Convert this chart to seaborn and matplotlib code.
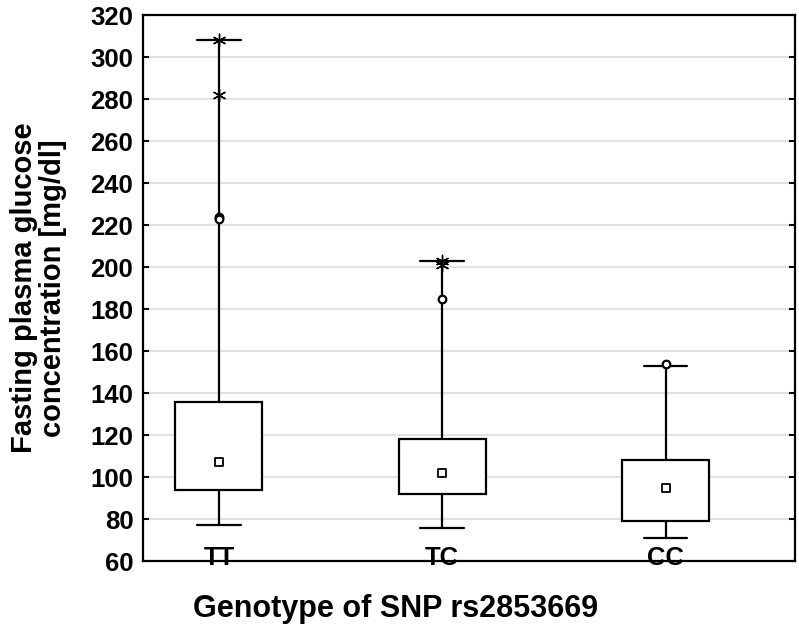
import numpy as np
import pandas as pd
import matplotlib
matplotlib.use('Agg')
import matplotlib.pyplot as plt
import seaborn as sns

# Valores (mg/dl)
genotipos = ['TT', 'TC', 'CC']
bigode_inf = [77, 76, 71]
q1 = [94, 92, 79]
mediana = [107, 102, 95]
q3 = [136, 118, 108]
bigode_sup = [308, 203, 153]

# pontos atípicos (círculos) e extremos (asteriscos)
atipicos_grupo = ['TT', 'TT', 'TC', 'CC']
atipicos_valor = [224, 223, 185, 154]
extremos_grupo = ['TT', 'TT', 'TC', 'TC']
extremos_valor = [308, 282, 203, 201]

# cinco pontos por grupo -> quartis exatos com whis=(0, 100)
linhas = []
for i, g in enumerate(genotipos):
    for v in (bigode_inf[i], q1[i], mediana[i], q3[i], bigode_sup[i]):
        linhas.append({'genotipo': g, 'glicose': v})
df = pd.DataFrame(linhas)
df_med = pd.DataFrame({'genotipo': genotipos, 'glicose': mediana})
df_out = pd.DataFrame({'genotipo': atipicos_grupo, 'glicose': atipicos_valor})
df_ext = pd.DataFrame({'genotipo': extremos_grupo, 'glicose': extremos_valor})

sns.set_style('white')
plt.rcParams['font.family'] = ['Liberation Sans', 'DejaVu Sans']
plt.rcParams['font.weight'] = 'bold'
plt.rcParams['text.color'] = 'black'
plt.rcParams['xtick.color'] = 'black'
plt.rcParams['ytick.color'] = 'black'
plt.rcParams['axes.labelcolor'] = 'black'

fig = plt.figure(figsize=(7.99, 6.27), dpi=100)
ax = fig.add_axes([0.179, 0.105, 0.816, 0.871])

sns.boxplot(data=df, x='genotipo', y='glicose', order=genotipos, whis=(0, 100),
            showfliers=False, width=0.39, color='white', linecolor='black',
            linewidth=1.6, medianprops={'visible': False}, ax=ax, zorder=3)

sns.scatterplot(data=df_med, x='genotipo', y='glicose', marker='s', s=30,
                facecolor='white', edgecolor='black', linewidth=1.3, ax=ax, zorder=5)
sns.scatterplot(data=df_out, x='genotipo', y='glicose', marker='o', s=30,
                facecolor='white', edgecolor='black', linewidth=1.6, ax=ax, zorder=5)
sns.scatterplot(data=df_ext, x='genotipo', y='glicose', marker=(6, 2, 0), s=80,
                color='black', linewidth=1.0, ax=ax, zorder=5)

ax.set_xlim(-0.34, 2.58)
ax.set_ylim(60, 320)
ax.set_yticks(np.arange(60, 321, 20))
ax.yaxis.grid(True, color='#dcdcdc', linewidth=1.2, zorder=0)
ax.set_axisbelow(True)

for lado in ax.spines.values():
    lado.set_visible(True)
    lado.set_color('black')
    lado.set_linewidth(1.6)

ax.tick_params(axis='y', direction='in', length=4, width=1.5, pad=7,
               labelsize=18.5, left=True, right=True)
ax.tick_params(axis='x', length=0, pad=-11, labelsize=18.5)

ax.set_xlabel('Genotype of SNP rs2853669', fontsize=22, fontweight='bold')
ax.xaxis.set_label_coords(0.388, -0.06)
ax.set_ylabel('Fasting plasma glucose\nconcentration [mg/dl]', fontsize=21,
              fontweight='bold', linespacing=1.05, va='center', ha='center')
ax.yaxis.set_label_coords(-0.16, 0.5)

fig.savefig('out.png', dpi=100)
